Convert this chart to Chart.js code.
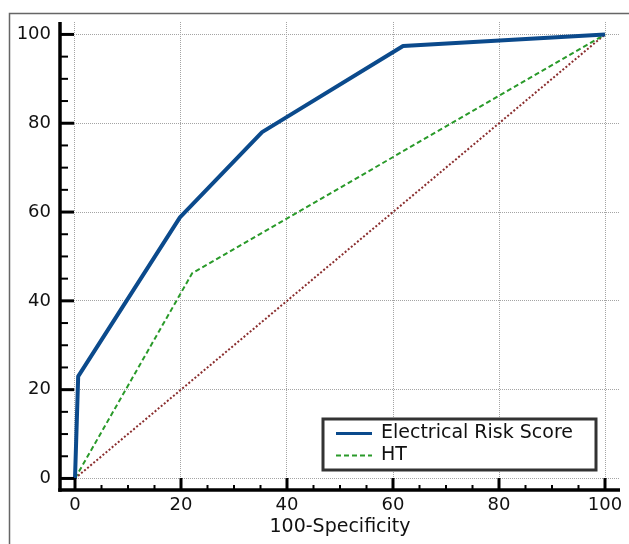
<!DOCTYPE html>
<html><head><meta charset="utf-8">
<script src="https://cdn.jsdelivr.net/npm/chart.js@4/dist/chart.umd.min.js"></script>
<style>html,body{margin:0;padding:0;background:#fff}#wrap{width:629px;height:544px}</style>
</head><body><div id="wrap"><canvas id="c" width="629" height="544"></canvas></div>
<script>
// ---- data ----
const majorTicks = [0, 20, 40, 60, 80, 100];
const minorTicks = [0, 5, 10, 15, 20, 25, 30, 35, 40, 45, 50, 55, 60, 65, 70, 75, 80, 85, 90, 95, 100];
const seriesNames = ['Electrical Risk Score', 'HT', 'Reference'];
const ersX = [0, 0.6, 19.8, 35.3, 61.9, 100];
const ersY = [0, 23, 58.8, 78, 97.4, 100];
const htX = [0, 22.1, 100];
const htY = [0, 46.2, 100];
const refX = [0, 100];
const refY = [0, 100];
const xAxisTitle = '100-Specificity';

const FONT = 'DejaVu Sans';
const pts = (xs, ys) => xs.map((x, i) => ({x: x, y: ys[i]}));

const axesPlugin = {
  id: 'axesPlugin',
  afterDraw(chart) {
    const ctx = chart.ctx, a = chart.chartArea;
    const xs = chart.scales.x, ys = chart.scales.y;
    ctx.save();
    // outer frame
    ctx.strokeStyle = '#666'; ctx.lineWidth = 1.5;
    ctx.beginPath(); ctx.moveTo(9.5, 544); ctx.lineTo(9.5, 13.5); ctx.lineTo(629, 13.5); ctx.stroke();
    // axis lines
    ctx.strokeStyle = '#000'; ctx.lineWidth = 3.5; ctx.lineCap = 'butt';
    ctx.beginPath(); ctx.moveTo(a.left, a.top); ctx.lineTo(a.left, a.bottom + 1.75); ctx.stroke();
    ctx.beginPath(); ctx.moveTo(a.left - 1.75, a.bottom); ctx.lineTo(a.right, a.bottom); ctx.stroke();
    // ticks
    minorTicks.forEach(v => {
      const major = majorTicks.includes(v);
      ctx.lineWidth = major ? 3 : 2;
      const py = ys.getPixelForValue(v);
      ctx.beginPath(); ctx.moveTo(a.left, py); ctx.lineTo(a.left + (major ? 14 : 8), py); ctx.stroke();
      const px = xs.getPixelForValue(v);
      ctx.beginPath(); ctx.moveTo(px, a.bottom); ctx.lineTo(px, a.bottom - (major ? 12 : 5)); ctx.stroke();
    });
    ctx.restore();
  },
  afterDatasetsDraw(chart) {
    const ctx = chart.ctx;
    const bx = 323, by = 419, bw = 273, bh = 51;
    ctx.save();
    ctx.fillStyle = '#fff';
    ctx.fillRect(bx, by, bw, bh);
    ctx.strokeStyle = '#333'; ctx.lineWidth = 3;
    ctx.strokeRect(bx, by, bw, bh);
    ctx.font = '19px "' + FONT + '"';
    ctx.textBaseline = 'middle'; ctx.textAlign = 'left';
    chart.data.datasets.slice(0, 2).forEach((ds, i) => {
      const y = by + 14.5 + i * 22;
      ctx.strokeStyle = ds.borderColor; ctx.lineWidth = Math.min(ds.borderWidth, 3);
      ctx.setLineDash(ds.borderDash || []);
      ctx.beginPath(); ctx.moveTo(bx + 13, y); ctx.lineTo(bx + 49, y); ctx.stroke();
      ctx.setLineDash([]);
      ctx.fillStyle = '#111';
      ctx.fillText(ds.label, bx + 58, y);
    });
    ctx.restore();
  }
};

const tickFont = {family: FONT, size: 18};
new Chart(document.getElementById('c'), {
  type: 'scatter',
  data: {
    datasets: [
      {label: seriesNames[0], data: pts(ersX, ersY), showLine: true, borderColor: '#0b4a8c', borderWidth: 4, pointRadius: 0, borderJoinStyle: 'round', order: 1},
      {label: seriesNames[1], data: pts(htX, htY), showLine: true, borderColor: '#2a9a2a', borderWidth: 2, borderDash: [5, 3], pointRadius: 0, order: 2},
      {label: seriesNames[2], data: pts(refX, refY), showLine: true, borderColor: '#8a2e2e', borderWidth: 2, borderDash: [2, 2], pointRadius: 0, order: 3}
    ]
  },
  options: {
    responsive: false, animation: false, devicePixelRatio: 1,
    layout: {padding: {top: 22, right: 9, left: 0, bottom: 0}},
    plugins: {legend: {display: false}, tooltip: {enabled: false}},
    scales: {
      x: {
        type: 'linear', min: -2.83, max: 102.83,
        afterBuildTicks: s => { s.ticks = majorTicks.map(v => ({value: v})); },
        afterFit: s => { s.height = 54; },
        grid: {color: '#a4a4a4', lineWidth: 1, drawTicks: false},
        border: {display: false, dash: [1, 1]},
        ticks: {font: tickFont, color: '#111', padding: 5, maxRotation: 0, autoSkip: false},
        title: {display: true, text: xAxisTitle, font: {family: FONT, size: 19}, color: '#111', padding: {top: 0, bottom: 6}}
      },
      y: {
        type: 'linear', min: -2.6, max: 102.8,
        afterBuildTicks: s => { s.ticks = majorTicks.map(v => ({value: v})); },
        afterFit: s => { s.width = 60; },
        grid: {color: '#a4a4a4', lineWidth: 1, drawTicks: false},
        border: {display: false, dash: [1, 1]},
        ticks: {font: tickFont, color: '#111', padding: 9, autoSkip: false}
      }
    }
  },
  plugins: [axesPlugin]
});
</script>
</body></html>
